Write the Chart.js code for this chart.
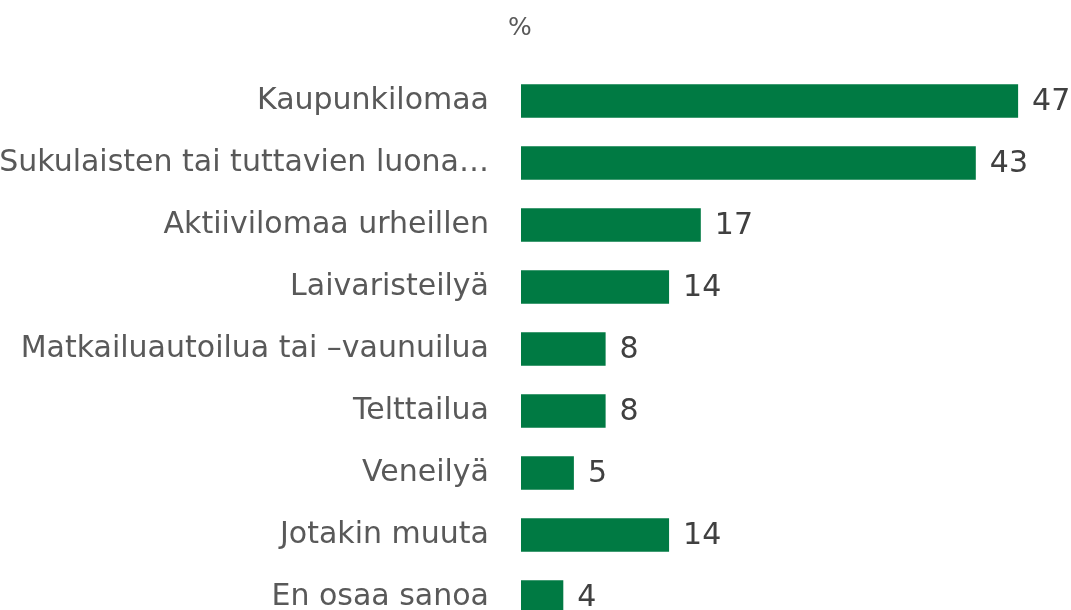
<!DOCTYPE html>
<html>
<head>
<meta charset="utf-8">
<script src="https://cdn.jsdelivr.net/npm/chart.js@4.4.1/dist/chart.umd.min.js"></script>
<style>
  html, body { margin: 0; padding: 0; background: #ffffff; overflow: hidden; }
  canvas { display: block; }
</style>
</head>
<body>
<canvas id="c" width="1071" height="640" style="width:1071px;height:640px"></canvas>
<script>
const categories = [
  "Kaupunkilomaa",
  "Sukulaisten tai tuttavien luona\u2026",
  "Aktiivilomaa urheillen",
  "Laivaristeilyä",
  "Matkailuautoilua tai \u2013vaunuilua",
  "Telttailua",
  "Veneilyä",
  "Jotakin muuta",
  "En osaa sanoa"
];
const values = [47, 43, 17, 14, 8, 8, 5, 14, 4];
const unitLabel = "%";
const xMax = 52;

const FONT = "'DejaVu Sans', sans-serif";

const valueLabels = {
  id: 'valueLabels',
  afterDatasetsDraw(chart) {
    const ctx = chart.ctx;
    const meta = chart.getDatasetMeta(0);
    ctx.save();
    ctx.font = "30px " + FONT;
    ctx.fillStyle = "#404040";
    ctx.textAlign = "left";
    ctx.textBaseline = "middle";
    meta.data.forEach((bar, i) => {
      ctx.fillText(String(values[i]), bar.x + 14, bar.y + 1);
    });
    ctx.restore();
  }
};

const unitTitle = {
  id: 'unitTitle',
  afterDraw(chart) {
    const ctx = chart.ctx;
    const x = chart.scales.x.getPixelForValue(0);
    ctx.save();
    ctx.font = "25px " + FONT;
    ctx.fillStyle = "#595959";
    ctx.textAlign = "center";
    ctx.textBaseline = "middle";
    ctx.fillText(unitLabel, x - 1, 28);
    ctx.restore();
  }
};

new Chart(document.getElementById('c'), {
  type: 'bar',
  data: {
    labels: categories,
    datasets: [{
      data: values,
      backgroundColor: '#007A43',
      borderWidth: 0,
      categoryPercentage: 1,
      barPercentage: 0.54
    }]
  },
  options: {
    indexAxis: 'y',
    responsive: false,
    maintainAspectRatio: false,
    devicePixelRatio: 1,
    animation: false,
    layout: { padding: { top: 70, bottom: 12, left: 0, right: 0 } },
    plugins: {
      legend: { display: false },
      tooltip: { enabled: false },
      title: { display: false }
    },
    scales: {
      x: {
        display: false,
        min: 0,
        max: xMax
      },
      y: {
        grid: { display: false, drawTicks: false },
        border: { display: false },
        ticks: {
          padding: 32,
          color: '#595959',
          font: { family: FONT, size: 30 }
        },
        afterFit(scale) {
          scale.width = 521;
          scale.paddingTop = 0;
          scale.paddingBottom = 0;
        }
      }
    }
  },
  plugins: [valueLabels, unitTitle]
});
</script>
</body>
</html>
